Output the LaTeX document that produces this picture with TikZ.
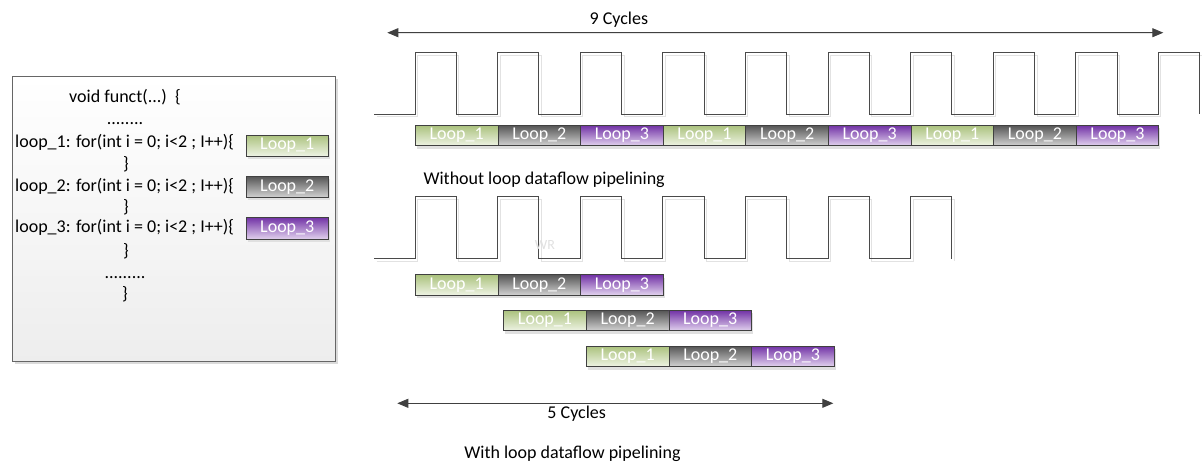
\documentclass[tikz,border=0pt]{standalone}
\usepackage{fontspec}
\setmainfont{Carlito}
\usetikzlibrary{arrows.meta,shadows}

\definecolor{ink}{HTML}{404040}
\definecolor{waveink}{HTML}{4A4A4A}
\definecolor{ghost}{HTML}{E2E2E2}
\definecolor{gtop}{HTML}{ABC27E}
\definecolor{gbot}{HTML}{EEF3E4}
\definecolor{ktop}{HTML}{565656}
\definecolor{kbot}{HTML}{D2D2D2}
\definecolor{ptop}{HTML}{7233A6}
\definecolor{pbot}{HTML}{E2D3EE}

\newcommand\lblfont{\fontsize{18pt}{21pt}\selectfont}

\begin{document}
\begin{tikzpicture}[x=1pt,y=-1pt,
  every node/.style={font=\lblfont, inner sep=0pt},
  stagebox/.style={draw=ink, line width=0.8pt, minimum width=82.6pt,
    minimum height=20.4pt, text=white, anchor=north west,
    drop shadow={shadow xshift=1.5pt, shadow yshift=-3pt, fill=black!12, opacity=1}},
  stageA/.style={stagebox, top color=gtop, bottom color=gbot},
  stageB/.style={stagebox, top color=ktop, bottom color=kbot},
  stageC/.style={stagebox, top color=ptop, bottom color=pbot},
  codebox/.style={draw=black!60, line width=0.8pt, top color=white, bottom color=black!7,
    anchor=north west,
    drop shadow={shadow xshift=3pt, shadow yshift=-3pt, fill=black!14, opacity=1}},
  wave/.style={draw=waveink, line width=1pt, line join=miter},
  waveshade/.style={draw=ghost, line width=1pt},
  span/.style={draw=ink, line width=0.9pt,
    {Triangle[length=11pt,width=9pt]}-{Triangle[length=11pt,width=9pt]},
    preaction={draw=black!10, xshift=1.5pt, yshift=-2.5pt}},
  codeline/.style={anchor=center, text height=13pt, text depth=4pt},
]
\useasboundingbox (0,0) rectangle (1202,469);

% ---------------- source listing ----------------
\node[codebox, minimum width=323.3pt, minimum height=285pt] (code) at (11.7,76) {};
\node[codeline] (sig) at (125,97.5) {void funct(...)\ \ \{};
\node[codeline] (dots1) at (125,120) {........};
\node[codeline, anchor=west] (for1) at (15,142.5) {loop\_1: for(int i = 0; i<2 ; I++)\{};
\node[codeline] (end1) at (126,165) {\}};
\node[codeline, anchor=west] (for2) at (15,186.5) {loop\_2: for(int i = 0; i<2 ; I++)\{};
\node[codeline] (end2) at (126,208) {\}};
\node[codeline, anchor=west] (for3) at (15,228) {loop\_3: for(int i = 0; i<2 ; I++)\{};
\node[codeline] (end3) at (126,252) {\}};
\node[codeline] (dots2) at (125,274) {.........};
\node[codeline] (close) at (125,295) {\}};
\node[stageA, minimum width=82.3pt, minimum height=21pt] (k1) at (245.7,134.7) {Loop\_1};
\node[stageB, minimum width=82.3pt, minimum height=21pt] (k2) at (245.7,176) {Loop\_2};
\node[stageC, minimum width=82.3pt, minimum height=22pt] (k3) at (245.7,217) {Loop\_3};

% ---------------- sequential schedule ----------------
\coordinate (nineL) at (387.3,32.7);
\coordinate (nineR) at (1163.3,32.7);
\draw[span] (nineL) -- (nineR);
\node (nine) at (618.8,19.5) {9 Cycles};

\begin{scope}[xshift=2.5pt, yshift=-2.5pt]
  \draw[waveshade] (374,114.3) -- (415,114.3)
    \foreach \k in {1,...,9} { -- ++(0,-61.6) -- ++(41.3,0) -- ++(0,61.6) -- ++(41.3,0) }
    -- ++(0,-61.6) -- ++(41.3,0) -- ++(0,61.6);
\end{scope}
\draw[wave] (374,114.3) -- (415,114.3)
  \foreach \k in {1,...,9} { -- ++(0,-61.6) -- ++(41.3,0) -- ++(0,61.6) -- ++(41.3,0) }
  -- ++(0,-61.6) -- ++(41.3,0) -- ++(0,61.6);

\foreach \i/\s/\n in {1/stageA/1,2/stageB/2,3/stageC/3,4/stageA/1,5/stageB/2,
                      6/stageC/3,7/stageA/1,8/stageB/2,9/stageC/3}
  \node[\s] (seq\i) at ({415+82.6*(\i-1)},125) {Loop\_\n};

\node (seqcap) at (544.2,180) {Without loop dataflow pipelining};

% ---------------- pipelined schedule ----------------
\begin{scope}[xshift=2.5pt, yshift=-2.5pt]
  \draw[waveshade] (374,258.7) -- (415,258.7)
    \foreach \k in {1,...,6} { -- ++(0,-62) -- ++(41.3,0) -- ++(0,62) -- ++(41.3,0) }
    -- ++(0,-62) -- ++(41.3,0) -- ++(0,62);
\end{scope}
\draw[wave] (374,258.7) -- (415,258.7)
  \foreach \k in {1,...,6} { -- ++(0,-62) -- ++(41.3,0) -- ++(0,62) -- ++(41.3,0) }
  -- ++(0,-62) -- ++(41.3,0) -- ++(0,62);

\node[text=black!12, font=\fontsize{14pt}{16pt}\selectfont] (mark) at (545,245) {WR};

\foreach \r/\x/\y in {a/415/274.3, b/503.3/310, c/586/345.7} {
  \node[stageA] (\r1) at (\x,\y) {Loop\_1};
  \node[stageB] (\r2) at ({\x+82.6},\y) {Loop\_2};
  \node[stageC] (\r3) at ({\x+165.2},\y) {Loop\_3};
}

\coordinate (fiveL) at (397.3,403.3);
\coordinate (fiveR) at (833.3,403.3);
\draw[span] (fiveL) -- (fiveR);
\node (five) at (576.7,414) {5 Cycles};
\node (pipecap) at (572.5,453.3) {With loop dataflow pipelining};
\end{tikzpicture}
\end{document}
